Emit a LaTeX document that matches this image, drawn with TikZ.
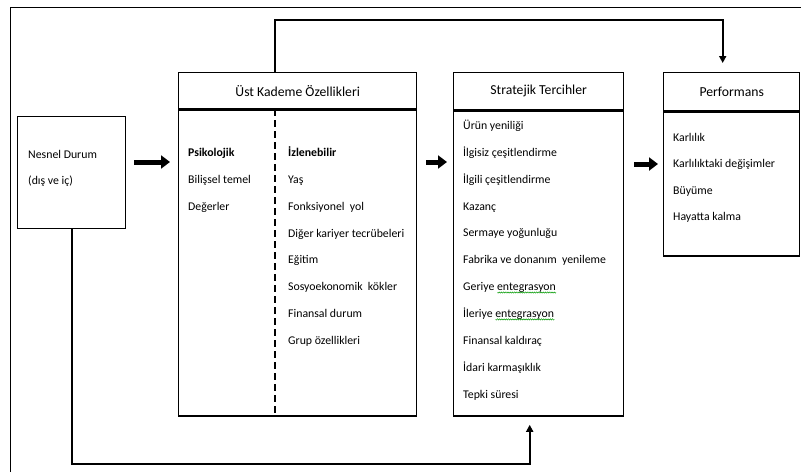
\documentclass[tikz,border=0pt]{standalone}
\usepackage{fontspec}
\setmainfont{Carlito}
\usetikzlibrary{arrows.meta,decorations.pathmorphing}
\newlength{\entw}
\begin{document}
\settowidth{\entw}{\fontsize{11.8}{13}\selectfont entegrasyon}
\begin{tikzpicture}[x=1pt,y=-1pt,
  box/.style={draw,line width=1.4pt,inner sep=0pt},
  head/.style={box,font=\fontsize{13.7}{15}\selectfont},
  item/.style={anchor=mid west,inner sep=0pt,font=\fontsize{11.8}{13}\selectfont},
  squig/.style={green!60!black,line width=0.5pt,decorate,decoration={snake,amplitude=0.6pt,segment length=2.2pt}},
  link/.style={line width=1.8pt,-{Triangle[length=7pt,width=7pt]}},
  fat/.style={line width=5pt,-{Triangle[length=9pt,width=13pt]}}]
\useasboundingbox (0,0) rectangle (801,472);
\pgfmathsetmacro{\dy}{26.9}
%frame
\draw[line width=1pt] (10,472) -- (10,7) -- (801,7);
%boxes
\node[box,minimum width=108pt,minimum height=112pt,anchor=north west] (nesnel) at (17,116) {};
\node[head,minimum width=238pt,minimum height=36pt,anchor=north west] (ustH) at (178,72) {Üst Kademe Özellikleri};
\node[box,minimum width=238pt,minimum height=306pt,anchor=north] (ustB) at (ustH.south) {};
\node[head,minimum width=170pt,minimum height=37pt,anchor=north west] (stratH) at (453,72) {Stratejik Tercihler};
\node[box,minimum width=170pt,minimum height=305pt,anchor=north] (stratB) at (stratH.south) {};
\node[head,minimum width=136pt,minimum height=38pt,anchor=north west] (perfH) at (663,72) {Performans};
\node[box,minimum width=136pt,minimum height=144pt,anchor=north] (perfB) at (perfH.south) {};
\coordinate (split) at (275,72);
\coordinate (row) at (0,162);
\coordinate (low) at (0,464);
\draw[line width=2pt,dash pattern=on 7pt off 4pt] (ustB.north -| split) -- (ustB.south -| split);
%texts
\node[item] (n1) at (28,156) {Nesnel Durum};
\node[item] (n2) at (28,182) {(dış ve iç)};
\node[item,font=\fontsize{11.8}{13}\selectfont\bfseries] (psi) at (188,154) {Psikolojik};
\node[item] (psi1) at (188,154+\dy) {Bilişsel temel};
\node[item] (psi2) at (188,154+2*\dy) {Değerler};
\node[item,font=\fontsize{11.8}{13}\selectfont\bfseries] (izl) at (288,154) {İzlenebilir};
\foreach \t [count=\i] in {Yaş,Fonksiyonel\ \ yol,Diğer kariyer tecrübeleri,Eğitim,Sosyoekonomik\ \ kökler,Finansal durum,Grup özellikleri}
  \node[item] (izl\i) at (288,154+\i*\dy) {\t};
\foreach \t [count=\i from 0] in {Ürün yeniliği,İlgisiz çeşitlendirme,İlgili çeşitlendirme,Kazanç,Sermaye yoğunluğu,Fabrika ve donanım\ \ yenileme,Geriye entegrasyon,İleriye entegrasyon,Finansal kaldıraç,İdari karmaşıklık,Tepki süresi}
  \node[item] (st\i) at (463,127+\i*\dy) {\t};
\draw[squig] ([yshift=0.5pt]st6.south east) -- ++(-\entw,0);
\draw[squig] ([yshift=0.5pt]st7.south east) -- ++(-\entw,0);
\foreach \t [count=\i from 0] in {Karlılık,Karlılıktaki değişimler,Büyüme,Hayatta kalma}
  \node[item] (pf\i) at (673,139+\i*26.4) {\t};
%arrows
\draw[fat,shorten <=8pt,shorten >=8pt] (row -| nesnel.east) -- (row -| ustB.west);
\draw[fat,shorten <=9pt,shorten >=6pt] (row -| ustB.east) -- (row -| stratB.west);
\draw[fat,shorten <=10pt,shorten >=5pt] ([yshift=-2pt]row -| stratB.east) -- ([yshift=-2pt]row -| perfB.west);
\draw[link,shorten >=9pt] (ustH.north -| split) -- ++(0,-52) -| ([xshift=-9pt]perfH.north);
\draw[link,shorten >=8pt] (nesnel.south) -- (nesnel.south |- low) -| ([xshift=-9pt]stratB.south);
\end{tikzpicture}
\end{document}
